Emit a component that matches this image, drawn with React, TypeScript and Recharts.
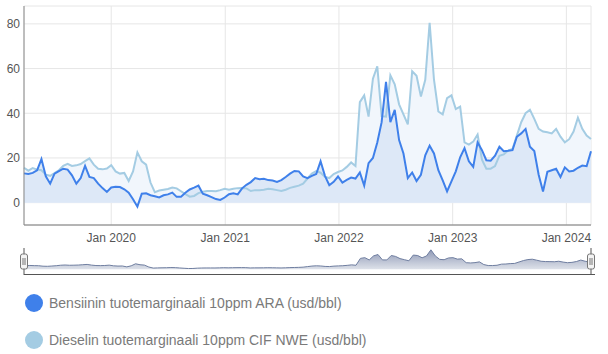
import React from 'react';
import { ComposedChart, AreaChart, Area, Line, XAxis, YAxis, CartesianGrid, Brush } from 'recharts';

// Two-week sampling starting 27 Mar 2019
const START = Date.UTC(2019, 2, 27);
const STEP_DAYS = 14;

const bensiini = [
  13.1, 12.8, 13.3, 14.5, 19.5, 11.8, 8.5, 13.0, 14.1, 15.2,
  14.8, 12.2, 8.5, 11.0, 16.5, 11.5, 11.0, 8.5, 6.5, 4.8,
  6.8, 7.1, 7.0, 6.0, 4.5, 1.5, -1.8, 4.0, 4.2, 3.3,
  2.9, 2.3, 3.3, 3.7, 4.5, 2.6, 2.6, 4.4, 5.9, 6.7,
  7.6, 4.0, 3.3, 2.5, 1.6, 1.2, 2.3, 3.8, 4.2, 3.7,
  6.4, 8.0, 9.2, 11.0, 10.5, 10.7, 10.1, 9.9, 9.3, 10.1,
  11.5, 13.0, 14.2, 14.0, 11.7, 11.0, 12.0, 12.8, 18.5, 12.0,
  7.8, 9.3, 11.7, 9.0, 10.2, 11.2, 10.8, 13.5, 7.6, 17.7,
  20.0, 26.9, 36.0, 54.0, 36.0, 41.5, 28.0, 22.0, 11.0, 13.5,
  9.7, 12.5, 21.2, 25.5, 22.0, 14.5, 10.0, 5.0, 9.5, 14.0,
  20.3, 24.4, 18.5, 16.0, 27.0, 23.5, 19.0, 18.8, 21.0, 25.0,
  23.0, 23.2, 23.5, 29.5, 31.0, 33.0, 25.0, 23.1, 12.5, 5.0,
  13.8, 14.5, 15.2, 11.5, 15.8, 14.0, 14.3, 15.6, 16.6, 16.3,
  23.0,
];

const diesel = [
  15.6, 14.3, 15.5, 14.8, 14.5, 12.5, 12.0, 13.2, 14.5, 16.5,
  17.4, 16.4, 16.7, 17.3, 18.6, 19.8, 17.0, 15.2, 14.9, 15.3,
  16.8, 14.0, 13.0, 13.3, 9.7, 14.0, 22.5, 18.5, 17.0, 9.0,
  4.7, 5.4, 5.8, 6.1, 6.8, 6.4, 5.1, 3.8, 2.7, 3.0,
  4.3, 4.9, 5.2, 5.2, 5.1, 5.6, 6.2, 5.8, 6.2, 6.5,
  6.6, 6.4, 5.2, 5.6, 5.6, 5.8, 6.2, 6.0, 5.6, 5.2,
  5.8, 6.6, 7.1, 7.6, 8.5, 10.8, 13.0, 14.1, 13.4, 11.5,
  11.0, 12.8, 13.7, 14.4, 16.0, 18.0, 16.4, 45.0, 48.0, 38.5,
  55.5, 61.0, 38.7, 38.5, 57.0, 53.0, 44.0, 39.5, 35.0, 58.8,
  56.8, 47.5, 55.0, 80.5, 55.0, 40.8, 39.5, 46.8, 48.0, 41.9,
  43.0, 27.0, 26.0, 27.3, 30.5, 19.2, 15.2, 15.2, 16.4, 21.0,
  21.6, 23.3, 24.0, 30.0, 36.0, 40.0, 41.5, 37.5, 33.0, 31.8,
  31.5, 31.0, 33.0, 29.5, 27.0, 28.4, 31.8, 38.0, 33.0, 30.0,
  28.5,
];

const xTicks = [
  Date.UTC(2020, 0, 1),
  Date.UTC(2021, 0, 1),
  Date.UTC(2022, 0, 1),
  Date.UTC(2023, 0, 1),
  Date.UTC(2024, 0, 1),
];
const yTicks = [0, 20, 40, 60, 80];

const seriesNames = [
  'Bensiinin tuotemarginaali 10ppm ARA (usd/bbl)',
  'Dieselin tuotemarginaali 10ppm CIF NWE (usd/bbl)',
];
const lineColors = ['#3f80ea', '#a4cce3'];
const fillColors = ['#dde8f7', '#f1f6fc'];

const data = bensiini.map((b, i) => ({
  date: START + i * STEP_DAYS * 86400000,
  bensiini: b,
  diesel: diesel[i],
}));

const FONT = '"Liberation Sans", Arial, sans-serif';

const fmtTick = (v: number) => `Jan ${new Date(v).getUTCFullYear()}`;

const Handle = (props: any) => {
  const { x, y, width, height } = props;
  const cx = x + width / 2;
  const hh = 15;
  const hw = 7;
  const hy = y + (height - hh) / 2;
  return (
    <g>
      <line x1={cx} y1={y} x2={cx} y2={y + height} stroke="#555" strokeWidth={1} />
      <rect x={cx - hw / 2} y={hy} width={hw} height={hh} rx={2} ry={2} fill="#f4f4f4" stroke="#777" strokeWidth={1} />
      <line x1={cx - 1} y1={hy + 4} x2={cx - 1} y2={hy + hh - 4} stroke="#777" strokeWidth={1} />
      <line x1={cx + 1} y1={hy + 4} x2={cx + 1} y2={hy + hh - 4} stroke="#777" strokeWidth={1} />
    </g>
  );
};

export default function App() {
  return (
    <div style={{ position: 'absolute', left: 0, top: 0, width: 608, height: 354, background: '#fff' }}>
      <ComposedChart
        width={608}
        height={285}
        data={data}
        margin={{ top: 6, right: 17, left: 0, bottom: 10 }}
      >
        <CartesianGrid stroke="#e6e6e6" vertical={true} horizontal={true} />
        <XAxis
          dataKey="date"
          type="number"
          scale="time"
          domain={['dataMin', 'dataMax']}
          ticks={xTicks}
          tickFormatter={fmtTick}
          tickLine={false}
          tickSize={0}
          tickMargin={8}
          height={23}
          axisLine={{ stroke: '#777' }}
          tick={{ fontSize: 12, fill: '#555', fontFamily: FONT }}
        />
        <YAxis
          type="number"
          domain={[-10, 88]}
          ticks={yTicks}
          allowDataOverflow
          width={24}
          tickLine={false}
          tickSize={0}
          tickMargin={4}
          axisLine={{ stroke: '#888' }}
          tick={{ fontSize: 12, fill: '#555', fontFamily: FONT }}
        />
        <Area dataKey="diesel" type="linear" stroke="none" fill={fillColors[1]} fillOpacity={1} isAnimationActive={false} />
        <Area dataKey="bensiini" type="linear" stroke="none" fill={fillColors[0]} fillOpacity={1} isAnimationActive={false} />
        <Line dataKey="diesel" type="linear" stroke={lineColors[1]} strokeWidth={2} dot={false} isAnimationActive={false} />
        <Line dataKey="bensiini" type="linear" stroke={lineColors[0]} strokeWidth={2} dot={false} isAnimationActive={false} />
        <Brush
          dataKey="date"
          x={20}
          y={248}
          width={575}
          height={27}
          travellerWidth={8}
          startIndex={0}
          endIndex={data.length - 1}
          stroke="none"
          fill="none"
          traveller={<Handle />}
        >
          <AreaChart data={data}>
            <defs>
              <linearGradient id="navFill" x1="0" y1="0" x2="0" y2="1">
                <stop offset="0%" stopColor="#8f99b6" />
                <stop offset="100%" stopColor="#dde1e9" />
              </linearGradient>
            </defs>
            <YAxis yAxisId="nav" hide domain={[-20, 84]} />
            <XAxis xAxisId="nav" dataKey="date" type="number" domain={['dataMin', 'dataMax']} hide />
            <Area xAxisId="nav" yAxisId="nav" dataKey="diesel" type="linear" stroke="#6f7ea0" strokeWidth={1} fill="url(#navFill)" fillOpacity={1} isAnimationActive={false} />
          </AreaChart>
        </Brush>
      </ComposedChart>
      <div style={{ position: 'absolute', left: 24, top: 274, width: 571, height: 1, background: '#555' }} />
      {seriesNames.map((name, i) => (
        <div
          key={name}
          style={{
            position: 'absolute',
            left: 25,
            top: 294 + i * 37,
            height: 18,
            display: 'flex',
            alignItems: 'center',
            fontFamily: FONT,
            fontSize: 14,
            color: '#7a7a7a',
            whiteSpace: 'nowrap',
          }}
        >
          <span style={{ display: 'inline-block', width: 18, height: 18, borderRadius: 9, background: lineColors[i], marginRight: 6 }} />
          <span>{name}</span>
        </div>
      ))}
    </div>
  );
}
